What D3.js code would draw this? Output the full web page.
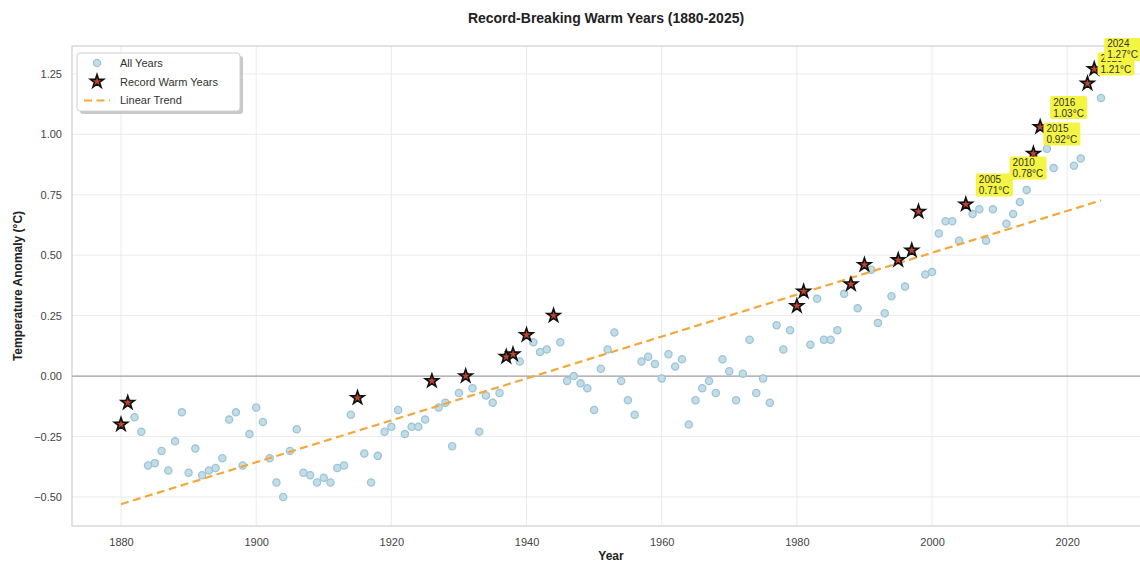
<!DOCTYPE html>
<html>
<head>
<meta charset="utf-8">
<script src="https://cdn.jsdelivr.net/npm/d3@7"></script>
<style>
  html, body { margin: 0; padding: 0; background: #fff; }
  svg { display: block; font-family: "Liberation Sans", Arial, sans-serif; }
</style>
</head>
<body>
<svg id="chart" width="1140" height="565"></svg>
<script>
// Annual global temperature anomaly (°C), 1880–2025
const firstYear = 1880;
const anomalies = [
  -0.20, -0.11, -0.17, -0.23, -0.37, -0.36, -0.31, -0.39, -0.27, -0.15, // 1880s
  -0.40, -0.30, -0.41, -0.39, -0.38, -0.34, -0.18, -0.15, -0.37, -0.24, // 1890s
  -0.13, -0.19, -0.34, -0.44, -0.50, -0.31, -0.22, -0.40, -0.41, -0.44, // 1900s
  -0.42, -0.44, -0.38, -0.37, -0.16, -0.09, -0.32, -0.44, -0.33, -0.23, // 1910s
  -0.21, -0.14, -0.24, -0.21, -0.21, -0.18, -0.02, -0.13, -0.11, -0.29, // 1920s
  -0.07,  0.00, -0.05, -0.23, -0.08, -0.11, -0.07,  0.08,  0.09,  0.06, // 1930s
   0.17,  0.14,  0.10,  0.11,  0.25,  0.14, -0.02,  0.00, -0.03, -0.05, // 1940s
  -0.14,  0.03,  0.11,  0.18, -0.02, -0.10, -0.16,  0.06,  0.08,  0.05, // 1950s
  -0.01,  0.09,  0.04,  0.07, -0.20, -0.10, -0.05, -0.02, -0.07,  0.07, // 1960s
   0.02, -0.10,  0.01,  0.15, -0.07, -0.01, -0.11,  0.21,  0.11,  0.19, // 1970s
   0.29,  0.35,  0.13,  0.32,  0.15,  0.15,  0.19,  0.34,  0.38,  0.28, // 1980s
   0.46,  0.44,  0.22,  0.26,  0.33,  0.48,  0.37,  0.52,  0.68,  0.42, // 1990s
   0.43,  0.59,  0.64,  0.64,  0.56,  0.71,  0.67,  0.69,  0.56,  0.69, // 2000s
   0.78,  0.63,  0.67,  0.72,  0.77,  0.92,  1.03,  0.94,  0.86,  0.98, // 2010s
   1.00,  0.87,  0.90,  1.21,  1.27,  1.15                                // 2020s
];
const years = anomalies.map((_, i) => firstYear + i);

const xTicks = [1880, 1900, 1920, 1940, 1960, 1980, 2000, 2020];
const yTicks = [-0.50, -0.25, 0.00, 0.25, 0.50, 0.75, 1.00, 1.25];
const annotatedCount = 6;   // label the most recent record years

const data = years.map((y, i) => ({ year: y, value: anomalies[i] }));

// Years that beat every earlier year
let runningMax = -Infinity;
const records = [];
data.forEach(d => {
  if (d.value > runningMax) { records.push(d); runningMax = d.value; }
});

// Least-squares trend
const mx = d3.mean(data, d => d.year), my = d3.mean(data, d => d.value);
const slope = d3.sum(data, d => (d.year - mx) * (d.value - my)) /
              d3.sum(data, d => (d.year - mx) ** 2);
const intercept = my - slope * mx;
const trend = [firstYear, years[years.length - 1]].map(y => ({ year: y, value: intercept + slope * y }));

const svg = d3.select("#chart");
const plot = { left: 72, right: 1150, top: 46, bottom: 526 };

const x = d3.scaleLinear().domain([1872.75, 2032.25]).range([plot.left, plot.right]);
const y = d3.scaleLinear().domain([-0.62, 1.365]).range([plot.bottom, plot.top]);

const g = svg.append("g");

// Grid
g.append("g").selectAll("line").data(yTicks).join("line")
  .attr("x1", plot.left).attr("x2", plot.right)
  .attr("y1", d => y(d)).attr("y2", d => y(d))
  .attr("stroke", "#ebebeb").attr("stroke-width", 1);
g.append("g").selectAll("line").data(xTicks).join("line")
  .attr("y1", plot.top).attr("y2", plot.bottom)
  .attr("x1", d => x(d)).attr("x2", d => x(d))
  .attr("stroke", "#ebebeb").attr("stroke-width", 1);

// Frame
g.append("rect")
  .attr("x", plot.left).attr("y", plot.top)
  .attr("width", plot.right - plot.left).attr("height", plot.bottom - plot.top)
  .attr("fill", "none").attr("stroke", "#cfcfcf").attr("stroke-width", 1.2);

// Zero line
g.append("line")
  .attr("x1", plot.left).attr("x2", plot.right)
  .attr("y1", y(0)).attr("y2", y(0))
  .attr("stroke", "#a3a3a3").attr("stroke-width", 1.2);

// Axes (labels only, tick marks hidden)
const xAxis = g.append("g").attr("transform", `translate(0,${plot.bottom})`)
  .call(d3.axisBottom(x).tickValues(xTicks).tickFormat(d3.format("d")).tickSize(0).tickPadding(12));
const yAxis = g.append("g").attr("transform", `translate(${plot.left},0)`)
  .call(d3.axisLeft(y).tickValues(yTicks).tickFormat(d3.format(".2f")).tickSize(0).tickPadding(10));
[xAxis, yAxis].forEach(a => {
  a.select(".domain").remove();
  a.selectAll("text").attr("fill", "#444").style("font-size", "11px")
    .style("font-family", "'Liberation Sans', Arial, sans-serif");
});
yAxis.selectAll("text").text(d => d3.format(".2f")(d).replace("-", "\u2212"));

// All years
g.append("g").selectAll("circle").data(data).join("circle")
  .attr("cx", d => x(d.year)).attr("cy", d => y(d.value)).attr("r", 3.6)
  .attr("fill", "#c3dde8").attr("stroke", "#9dc4d5").attr("stroke-width", 1.3);

// Trend line
g.append("path").datum(trend)
  .attr("d", d3.line().x(d => x(d.year)).y(d => y(d.value)))
  .attr("fill", "none").attr("stroke", "#f2a83e").attr("stroke-width", 2.2)
  .attr("stroke-dasharray", "8,4.5");

// Record years
const star = d3.symbol().type(d3.symbolStar).size(54);
g.append("g").selectAll("path").data(records).join("path")
  .attr("transform", d => `translate(${x(d.year)},${y(d.value)})`)
  .attr("d", star)
  .attr("fill", "#c04330").attr("stroke", "#111").attr("stroke-width", 1.6)
  .attr("stroke-linejoin", "miter");

// Labels on the latest records
const notes = g.append("g").selectAll("g").data(records.slice(-annotatedCount)).join("g")
  .attr("transform", d => `translate(${x(d.year) + 13},${y(d.value) - 31})`);
notes.append("rect")
  .attr("x", -3).attr("y", 0).attr("width", 37).attr("height", 23).attr("rx", 2)
  .attr("fill", "#f4f542");
notes.append("text")
  .attr("x", 0).attr("y", 9.5)
  .style("font-size", "10px").attr("fill", "#333")
  .text(d => d.year);
notes.append("text")
  .attr("x", 0).attr("y", 20.5)
  .style("font-size", "10px").attr("fill", "#333")
  .text(d => d.value.toFixed(2) + "°C");

// Legend
const lg = svg.append("g").attr("transform", "translate(77,53)");
lg.append("rect").attr("x", 3).attr("y", 3).attr("width", 163).attr("height", 58).attr("rx", 3)
  .attr("fill", "#9a9a9a").attr("opacity", 0.55);
lg.append("rect").attr("width", 163).attr("height", 58).attr("rx", 3)
  .attr("fill", "#fff").attr("stroke", "#d0d0d0");
lg.append("circle").attr("cx", 20).attr("cy", 10).attr("r", 3.6)
  .attr("fill", "#c3dde8").attr("stroke", "#9dc4d5").attr("stroke-width", 1.3);
lg.append("path").attr("transform", "translate(20,28.5)").attr("d", star)
  .attr("fill", "#c04330").attr("stroke", "#111").attr("stroke-width", 1.6);
lg.append("line").attr("x1", 7).attr("x2", 33).attr("y1", 47.5).attr("y2", 47.5)
  .attr("stroke", "#f2a83e").attr("stroke-width", 2.2).attr("stroke-dasharray", "8,4.5");
const legendLabels = ["All Years", "Record Warm Years", "Linear Trend"];
lg.selectAll("text.lbl").data(legendLabels).join("text").attr("class", "lbl")
  .attr("x", 43).attr("y", (d, i) => 14 + i * 18.5)
  .style("font-size", "11px").attr("fill", "#333").text(d => d);

// Titles
svg.append("text").attr("x", 606).attr("y", 23).attr("text-anchor", "middle")
  .style("font-size", "14px").style("font-weight", "bold").attr("fill", "#222")
  .text("Record-Breaking Warm Years (1880-2025)");
svg.append("text").attr("x", 611).attr("y", 560).attr("text-anchor", "middle")
  .style("font-size", "12px").style("font-weight", "bold").attr("fill", "#222")
  .text("Year");
svg.append("text").attr("transform", "translate(22,286) rotate(-90)").attr("text-anchor", "middle")
  .style("font-size", "12px").style("font-weight", "bold").attr("fill", "#222")
  .text("Temperature Anomaly (°C)");
</script>
</body>
</html>
